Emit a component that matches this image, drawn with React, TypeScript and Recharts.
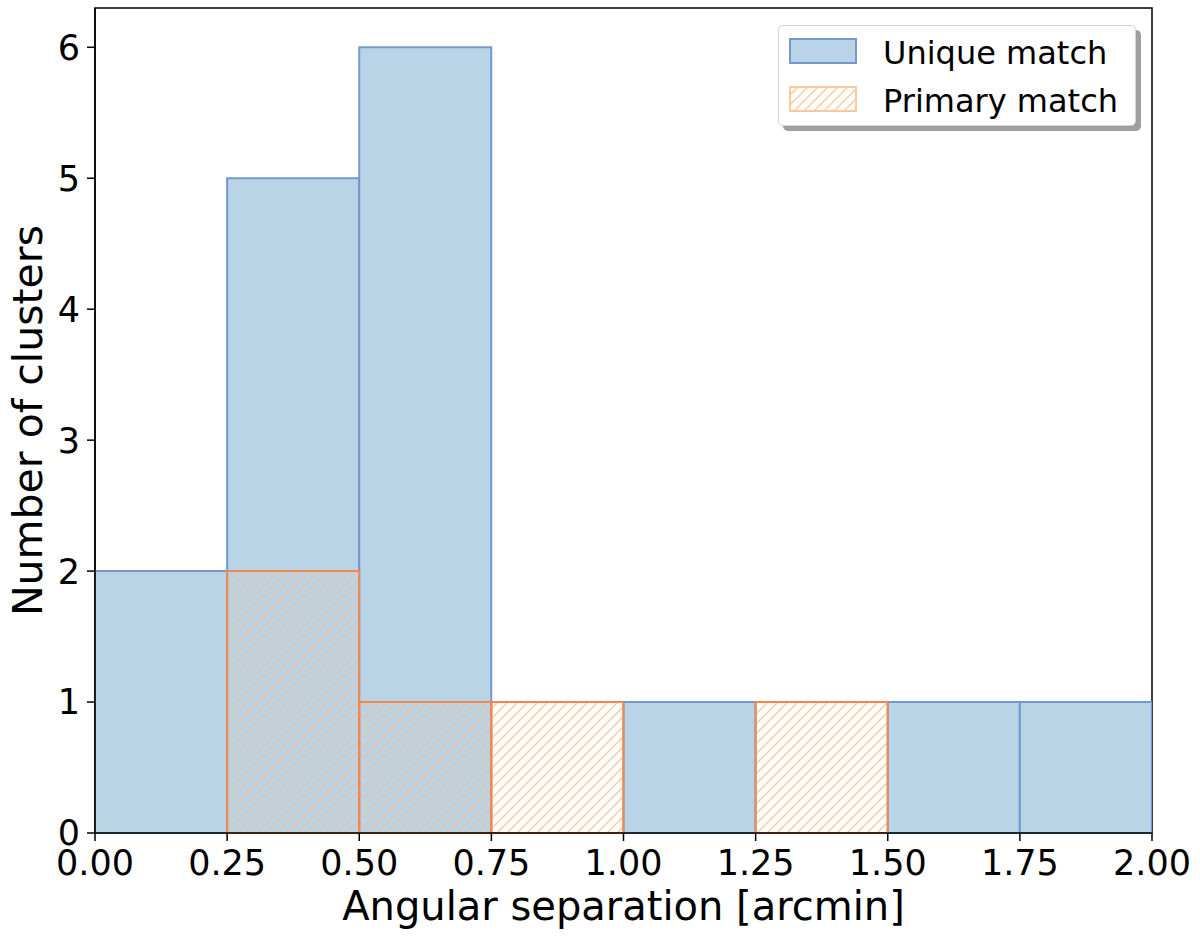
import React from 'react'
import {
  Bar,
  BarChart,
  Legend,
  ReferenceArea,
  XAxis,
  YAxis,
} from 'recharts'

// bin centres (arcmin), bin width 0.25
const binCenters = [0.125, 0.375, 0.625, 0.875, 1.125, 1.375, 1.625, 1.875]
const uniqueCounts = [2, 5, 6, 0, 1, 0, 1, 1]
const primaryCounts = [0, 2, 1, 1, 0, 1, 0, 0]
const xTicks = [0, 0.25, 0.5, 0.75, 1.0, 1.25, 1.5, 1.75, 2.0]
const yTicks = [0, 1, 2, 3, 4, 5, 6]
const legendOrder = ['unique', 'primary']

const FONT = '"DejaVu Sans", sans-serif'
const uniqueFill = '#b9d4e7'
const uniqueEdge = '#7399cb'
const primaryEdge = '#f4874f'
const hatchColor = '#fbbf8c'

const chartData = binCenters.map((x, i) => ({
  x,
  unique: uniqueCounts[i],
  primary: primaryCounts[i],
}))

function HatchDef({ id }: { id: string }) {
  return (
    <pattern id={id} patternUnits="userSpaceOnUse" width={10} height={10}>
      <path
        d="M-1,1 l2,-2 M0,10 l10,-10 M9,11 l2,-2"
        stroke={hatchColor}
        strokeOpacity={0.85}
        strokeWidth={1.4}
      />
    </pattern>
  )
}

function LegendBox(props: any) {
  const items = [...(props.payload ?? [])].sort(
    (a: any, b: any) => legendOrder.indexOf(a.dataKey) - legendOrder.indexOf(b.dataKey),
  )
  return (
    <div
      style={{
        width: 358,
        height: 101,
        boxSizing: 'border-box',
        border: '1.5px solid #d4d4d4',
        borderRadius: 5,
        background: '#fff',
        boxShadow: '5px 5px 0 #9e9e9e',
        padding: '12px 0 0 10px',
        fontFamily: FONT,
        fontSize: 32,
        color: '#000',
      }}
    >
      {items.map((item: any, i: number) => {
        const isPrimary = item.dataKey === 'primary'
        return (
          <div
            key={item.value}
            style={{ display: 'flex', alignItems: 'center', height: 26, marginBottom: i === 0 ? 22 : 0 }}
          >
            <svg width={68} height={26} style={{ display: 'block' }}>
              <defs>
                <HatchDef id="legendHatch" />
              </defs>
              <rect
                x={1}
                y={1}
                width={66}
                height={24}
                fill={isPrimary ? 'url(#legendHatch)' : uniqueFill}
                stroke={isPrimary ? '#fdc89a' : uniqueEdge}
                strokeWidth={2}
              />
            </svg>
            <span style={{ marginLeft: 26, lineHeight: '26px', position: 'relative', top: 2 }}>
              {item.value}
            </span>
          </div>
        )
      })}
    </div>
  )
}

function YLabel(props: any) {
  const vb = props.viewBox
  const cy = vb.y + vb.height / 2
  return (
    <text
      x={42}
      y={cy}
      transform={`rotate(-90, 42, ${cy})`}
      textAnchor="middle"
      fontFamily={FONT}
      fontSize={41}
      fill="#000"
    >
      Number of clusters
    </text>
  )
}

export default function App() {
  return (
    <div style={{ position: 'absolute', left: 0, top: 0, fontFamily: FONT }}>
      <BarChart
        width={1200}
        height={946}
        data={chartData}
        margin={{ top: 8, right: 48, left: 0, bottom: 0 }}
        barCategoryGap={0}
        barGap={0}
      >
        <defs>
          <HatchDef id="barHatch" />
        </defs>
        <XAxis
          xAxisId="a"
          dataKey="x"
          type="number"
          domain={[0, 2]}
          ticks={xTicks}
          tickFormatter={(v: number) => v.toFixed(2)}
          interval={0}
          allowDataOverflow
          height={113}
          tickSize={8}
          tickMargin={9}
          axisLine={{ stroke: '#000', strokeWidth: 1.5 }}
          tickLine={{ stroke: '#000', strokeWidth: 1.5 }}
          tick={{ fill: '#000', fontSize: 35, fontFamily: FONT }}
          label={{
            value: 'Angular separation [arcmin]',
            position: 'insideBottom',
            offset: 26,
            fill: '#000',
            fontSize: 40,
            fontFamily: FONT,
          }}
        />
        <XAxis
          xAxisId="b"
          dataKey="x"
          type="number"
          domain={[0, 2]}
          allowDataOverflow
          hide
        />
        <YAxis
          type="number"
          domain={[0, 6.3]}
          ticks={yTicks}
          interval={0}
          width={95}
          tickSize={8}
          tickMargin={7}
          axisLine={{ stroke: '#000', strokeWidth: 1.5 }}
          tickLine={{ stroke: '#000', strokeWidth: 1.5 }}
          tick={{ fill: '#000', fontSize: 35, fontFamily: FONT }}
          label={<YLabel />}
        />
        <Bar
          xAxisId="a"
          dataKey="unique"
          name="Unique match"
          fill={uniqueFill}
          stroke={uniqueEdge}
          strokeWidth={2}
          isAnimationActive={false}
        />
        <Bar
          xAxisId="b"
          dataKey="primary"
          name="Primary match"
          fill="url(#barHatch)"
          stroke={primaryEdge}
          strokeWidth={2}
          isAnimationActive={false}
        />
        <ReferenceArea
          xAxisId="a"
          x1={0}
          x2={2}
          y1={0}
          y2={6.3}
          fill="none"
          fillOpacity={0}
          stroke="#000"
          strokeWidth={1.5}
          ifOverflow="visible"
        />
        <Legend
          layout="vertical"
          align="center"
          verticalAlign="middle"
          content={<LegendBox />}
          wrapperStyle={{ position: 'absolute', left: 778, top: 25, width: 364, height: 110 }}
        />
      </BarChart>
    </div>
  )
}
